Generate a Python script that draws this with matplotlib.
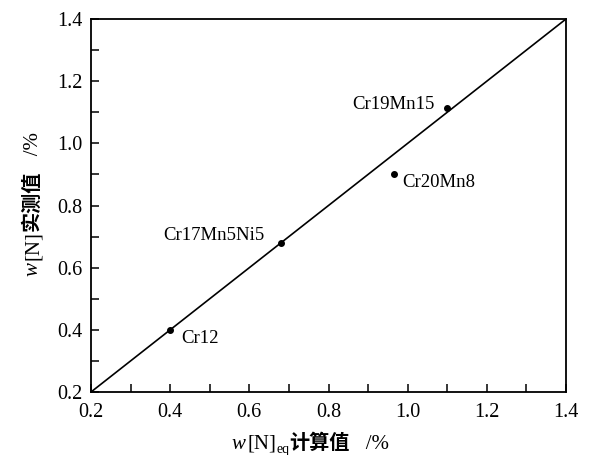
import matplotlib
matplotlib.use("Agg")
import matplotlib.pyplot as plt
from matplotlib.ticker import MultipleLocator

# Data
names = ["Cr12", "Cr17Mn5Ni5", "Cr20Mn8", "Cr19Mn15"]
calc_vals = [0.40, 0.68, 0.965, 1.10]
meas_vals = [0.40, 0.68, 0.90, 1.115]
line_x = [0.2, 1.4]
line_y = [0.2, 1.4]
ticks = [0.2, 0.4, 0.6, 0.8, 1.0, 1.2, 1.4]
tick_labels = ["0.2", "0.4", "0.6", "0.8", "1.0", "1.2", "1.4"]

SERIF = 'Liberation Serif'
CJK = 'Noto Sans CJK SC'
plt.rcParams['font.family'] = [SERIF, CJK]

W, H = 593, 455
fig = plt.figure(figsize=(W / 100, H / 100), dpi=100)
ax = fig.add_axes([91 / W, 1 - 392 / H, (566 - 91) / W, (392 - 19) / H])

ax.plot(line_x, line_y, color='black', lw=1.2)
ax.plot(calc_vals, meas_vals, 'o', color='black', ms=4)

offsets = {"Cr12": (11, -9, 'left'),
           "Cr17Mn5Ni5": (-17, 7, 'right'),
           "Cr20Mn8": (8, -8, 'left'),
           "Cr19Mn15": (-13, 3, 'right')}
for n, x, y in zip(names, calc_vals, meas_vals):
    dx, dy, ha = offsets[n]
    ax.annotate(n, (x, y), xytext=(dx, dy), textcoords='offset pixels',
                ha=ha, va='center', fontsize=13.5, family=SERIF)

ax.set_xlim(0.2, 1.4)
ax.set_ylim(0.2, 1.4)
ax.set_xticks(ticks)
ax.set_xticklabels(tick_labels)
ax.set_yticks(ticks)
ax.set_yticklabels(tick_labels)
ax.xaxis.set_minor_locator(MultipleLocator(0.1))
ax.yaxis.set_minor_locator(MultipleLocator(0.1))
ax.tick_params(which='both', direction='in', length=6, width=1.1,
               top=False, right=False, labelsize=14.5)
ax.tick_params(axis='x', pad=8)
ax.tick_params(axis='y', pad=6)
for s in ax.spines.values():
    s.set_linewidth(1.3)

renderer = fig.canvas.get_renderer()


def compose(pieces, cx, cy, rotation=0):
    """pieces: list of (text, props, baseline_shift_px). cx, cy: pixel coords
    (from top-left) of label centre along direction, baseline position."""
    widths = []
    for txt, props, _ in pieces:
        t = fig.text(0, 0, txt, **props)
        bb = t.get_window_extent(renderer)
        widths.append(bb.width)
        t.remove()
    total = sum(widths)
    pos = -total / 2
    for (txt, props, shift), w in zip(pieces, widths):
        if rotation == 0:
            px, py = cx + pos, (H - cy) + shift
        else:
            px, py = cx - shift, (H - cy) + pos
        fig.text(px / W, py / H, txt, rotation=rotation, rotation_mode='anchor',
                 ha='left', va='baseline', **props)
        pos += w


it = dict(family=SERIF, style='italic', fontsize=15)
rm = dict(family=SERIF, fontsize=15)
gap = dict(family=SERIF, fontsize=8)
sub = dict(family=SERIF, fontsize=10)
cjk = dict(family=CJK, fontsize=14.5, weight='bold')

compose([("w", it, 0), (" ", gap, 0), ("[N]", rm, 0), ("eq", sub, -4),
         ("计算值", cjk, 0), ("   /%", rm, 0)], 310, 449, 0)
compose([("w", it, 0), (" ", gap, 0), ("[N]", rm, 0), ("实测值", cjk, 0),
         ("   /%", rm, 0)], 38, 204, 90)

fig.savefig("out.png", dpi=100)
